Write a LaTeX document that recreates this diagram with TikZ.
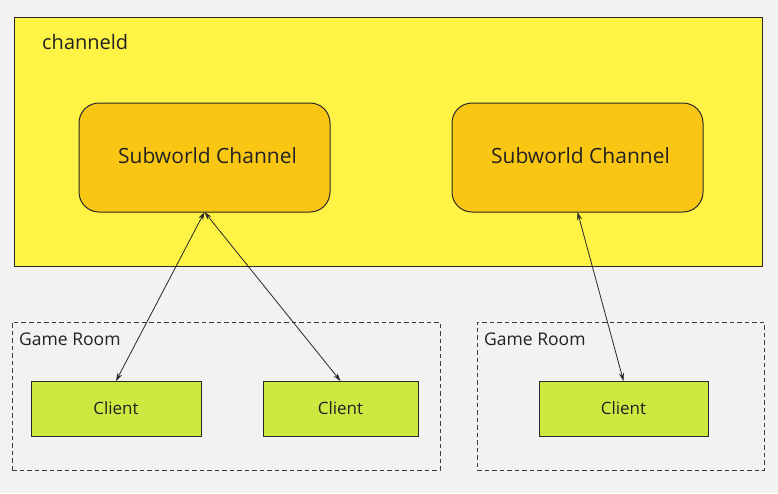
\documentclass[tikz,border=0pt]{standalone}
\usepackage{fontspec}
\setmainfont{Open Sans}
\usetikzlibrary{arrows.meta}
\definecolor{bgc}{RGB}{242,242,242}
\definecolor{outery}{RGB}{255,243,69}
\definecolor{subw}{RGB}{249,199,19}
\definecolor{clientc}{RGB}{207,232,65}
\definecolor{edgec}{RGB}{40,40,40}
\definecolor{txt}{RGB}{34,34,34}
\begin{document}
\begin{tikzpicture}[x=1pt,y=-1pt,
  box/.style={draw=edgec,line width=1pt,inner sep=0pt,outer sep=0pt,text=txt},
  chan/.style={box,fill=outery},
  subbox/.style={box,fill=subw,rounded corners=20pt,minimum width=251pt,minimum height=109pt},
  subtxt/.style={inner sep=0pt,text=txt,font=\fontsize{21}{25}\selectfont},
  room/.style={draw=edgec!90,line width=1pt,dash pattern=on 4.5pt off 3pt,inner sep=0pt,outer sep=0pt,minimum height=148pt},
  clientbox/.style={box,fill=clientc,minimum height=55pt,font=\fontsize{17}{20}\selectfont},
  lbl/.style={inner sep=0pt,text=txt,anchor=west},
  link/.style={draw=edgec,line width=0.8pt,{Stealth[length=8pt,width=5pt]}-{Stealth[length=8pt,width=5pt]}}
]
\fill[bgc] (0,0) rectangle (778,493);
\useasboundingbox (0,0) rectangle (778,493);
\node[chan,minimum width=748pt,minimum height=249pt] (outer) at (388,141.5) {};
\node[lbl,font=\fontsize{20}{24}\selectfont] (chname) at (42,42) {channeld};
\node[subbox] (sw1) at (204.5,157.5) {};
\node[subbox] (sw2) at (577.5,157.5) {};
\node[subtxt] (sw1t) at (207.5,156) {Subworld Channel};
\node[subtxt] (sw2t) at (580.5,156) {Subworld Channel};
\node[room,minimum width=428pt] (room1) at (226,396) {};
\node[room,minimum width=287pt] (room2) at (620.5,396) {};
\node[lbl,font=\fontsize{17.5}{20}\selectfont] (r1lbl) at (19,339) {Game Room};
\node[lbl,font=\fontsize{17.5}{20}\selectfont] (r2lbl) at (484,339) {Game Room};
\node[clientbox,minimum width=170pt] (c1) at (116,408.5) {Client};
\node[clientbox,minimum width=155pt] (c2) at (340.5,408.5) {Client};
\node[clientbox,minimum width=169pt] (c3) at (623.5,408.5) {Client};
\draw[link] (sw1.south) -- (c1.north);
\draw[link] (sw1.south) -- (c2.north);
\draw[link] (sw2.south) -- (c3.north);
\end{tikzpicture}
\end{document}
